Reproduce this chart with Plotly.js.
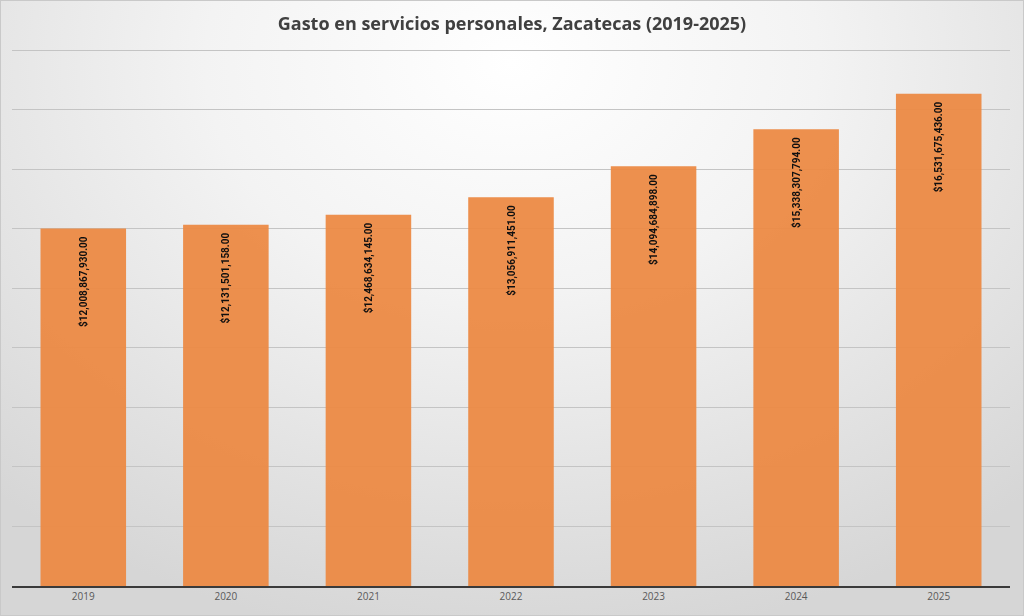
<!DOCTYPE html>
<html>
<head>
<meta charset="utf-8">
<script src="https://cdn.plot.ly/plotly-3.0.1.min.js"></script>
<style>
html,body{margin:0;padding:0;width:1024px;height:616px;overflow:hidden;}
#chart{width:1022px;height:614px;border:1px solid #c9c9c9;
background: radial-gradient(ellipse 75% 95% at 50% 10%, #ffffff 0%, #f3f3f3 40%, #e2e2e2 75%, #d6d6d6 100%);}
</style>
</head>
<body>
<div id="chart"></div>
<script>
const years = ['2019','2020','2021','2022','2023','2024','2025'];
const gasto = [12008867930.00, 12131501158.00, 12468634145.00, 13056911451.00, 14094684898.00, 15338307794.00, 16531675436.00];
const labels = ['$12,008,867,930.00','$12,131,501,158.00','$12,468,634,145.00','$13,056,911,451.00','$14,094,684,898.00','$15,338,307,794.00','$16,531,675,436.00'];

const trace = {
  type: 'bar',
  x: years,
  y: gasto,
  text: labels.map(s => s + '\u00A0\u00A0'),
  textposition: 'inside',
  insidetextanchor: 'end',
  textangle: -90,
  constraintext: 'none',
  textfont: {family: 'Roboto', size: 10, color: '#000000', weight: 'bold'},
  marker: {color: '#EC8943', line: {width: 0}},
  opacity: 0.94,
  hoverinfo: 'none'
};

const layout = {
  width: 1022, height: 614,
  margin: {l: 11, r: 13, t: 47, b: 29, pad: 0},
  paper_bgcolor: 'rgba(0,0,0,0)',
  plot_bgcolor: 'rgba(0,0,0,0)',
  bargap: 0.4,
  showlegend: false,
  title: {
    text: 'Gasto en servicios personales, Zacatecas (2019-2025)',
    font: {family: 'Open Sans', size: 18, color: '#404040', weight: 700},
    x: 0.5, xanchor: 'center', y: 0.963, yanchor: 'middle'
  },
  xaxis: {
    type: 'category',
    showgrid: false,
    showline: true, linecolor: '#3a3a3a', linewidth: 2,
    ticks: '',
    tickfont: {family: 'Open Sans', size: 10, color: '#595959'},
    fixedrange: true
  },
  yaxis: {
    range: [0, 18.07e9],
    tickvals: [2e9, 4e9, 6e9, 8e9, 10e9, 12e9, 14e9, 16e9, 18e9],
    showticklabels: false,
    showgrid: true, gridcolor: '#c4c4c4', gridwidth: 1,
    zeroline: false,
    showline: false,
    fixedrange: true
  }
};

Plotly.newPlot('chart', [trace], layout, {displayModeBar: false, staticPlot: true});
</script>
</body>
</html>
